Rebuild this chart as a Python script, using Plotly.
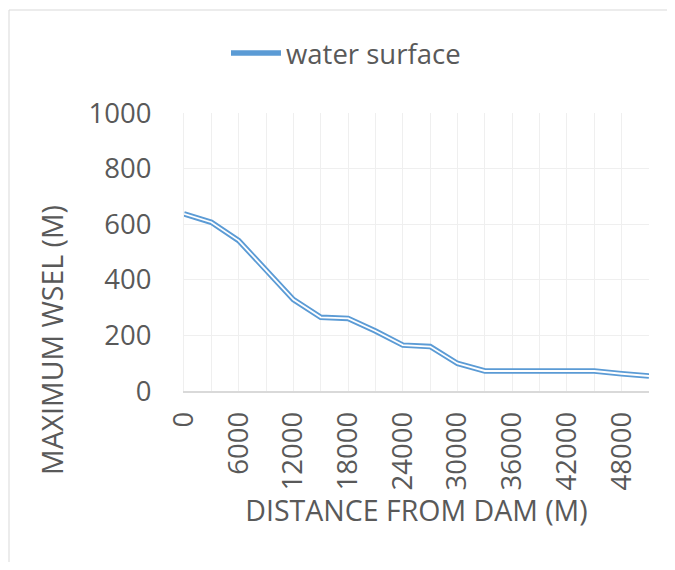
import plotly.graph_objects as go

distance = [0, 3000, 6000, 9000, 12000, 15000, 18000, 21000, 24000, 27000,
            30000, 33000, 36000, 39000, 42000, 45000, 48000, 51000]
wsel = [637, 607, 541, 435, 329, 265, 261, 216, 165, 160,
        99, 72, 72, 72, 72, 72, 62, 54]
x_ticks = [0, 6000, 12000, 18000, 24000, 30000, 36000, 42000, 48000]
y_ticks = [0, 200, 400, 600, 800, 1000]
series_name = "water surface"
x_title = "DISTANCE FROM DAM (M)"
y_title = "MAXIMUM WSEL (M)"

BLUE = "#5b9bd5"
TXT = "#595959"
FONT = "Open Sans"
FS = 27.5
FT = 28.5

# page body has an 8px margin; plot area wanted at x 184..649, y 113..391
W, H = 659, 554
ML, MR, MT, MB = 176, 18, 105, 171
PX0, PY0, PW, PH = 184, 391, 465, 278

fig = go.Figure()
fig.add_trace(go.Scatter(x=distance, y=wsel, mode="lines", name=series_name,
                         line=dict(color=BLUE, width=5.5), showlegend=True,
                         hoverinfo="skip"))
fig.add_trace(go.Scatter(x=distance, y=wsel, mode="lines", name=series_name,
                         line=dict(color="white", width=1.8), showlegend=False,
                         hoverinfo="skip"))

frame_left = (9 - PX0) / PW
frame_right = (675 - PX0) / PW
frame_top = (PY0 - 10) / PH
frame_bottom = (PY0 - 570) / PH

fig.update_layout(
    width=W, height=H,
    margin=dict(l=ML, r=MR, t=MT, b=MB),
    paper_bgcolor="white", plot_bgcolor="white",
    font=dict(family=FONT, color=TXT, size=FS),
    showlegend=True,
    legend=dict(orientation="h", x=(226 - PX0) / PW, y=(PY0 - 53) / PH,
                xanchor="left", yanchor="middle",
                font=dict(family=FONT, size=FS, color=TXT),
                bgcolor="rgba(0,0,0,0)", itemwidth=50),
    xaxis=dict(range=[0, 51000], tickvals=x_ticks, ticktext=[str(v) for v in x_ticks],
               tickangle=-90, showgrid=True, gridcolor="#efefef", gridwidth=1,
               minor=dict(dtick=3000, tick0=0, showgrid=True, gridcolor="#efefef", gridwidth=1),
               showline=True, linecolor="#d9d9d9", linewidth=1.5,
               ticks="outside", ticklen=8, tickcolor="rgba(0,0,0,0)",
               zeroline=False, tickfont=dict(family=FONT, size=FS, color=TXT),
               title=dict(text=x_title, standoff=12,
                          font=dict(family=FONT, size=FT, color=TXT))),
    yaxis=dict(range=[0, 1000], tickvals=y_ticks, showgrid=True, gridcolor="#efefef",
               gridwidth=1, showline=True, linecolor="#efefef", zeroline=False,
               ticks="outside", ticklen=26, tickcolor="rgba(0,0,0,0)",
               tickfont=dict(family=FONT, size=FS, color=TXT)),
    annotations=[dict(text=y_title, textangle=-90, showarrow=False,
                      xref="paper", yref="paper",
                      x=(52 - PX0) / PW, y=(PY0 - 340) / PH,
                      xanchor="center", yanchor="middle",
                      font=dict(family=FONT, size=FT, color=TXT))],
    shapes=[
        dict(type="line", xref="paper", yref="paper",
             x0=frame_left, x1=frame_right, y0=frame_top, y1=frame_top,
             line=dict(color="#d9d9d9", width=1), layer="below"),
        dict(type="line", xref="paper", yref="paper",
             x0=frame_left, x1=frame_left, y0=frame_bottom, y1=frame_top,
             line=dict(color="#d9d9d9", width=1), layer="below"),
    ],
)

fig.write_html("out.html")
